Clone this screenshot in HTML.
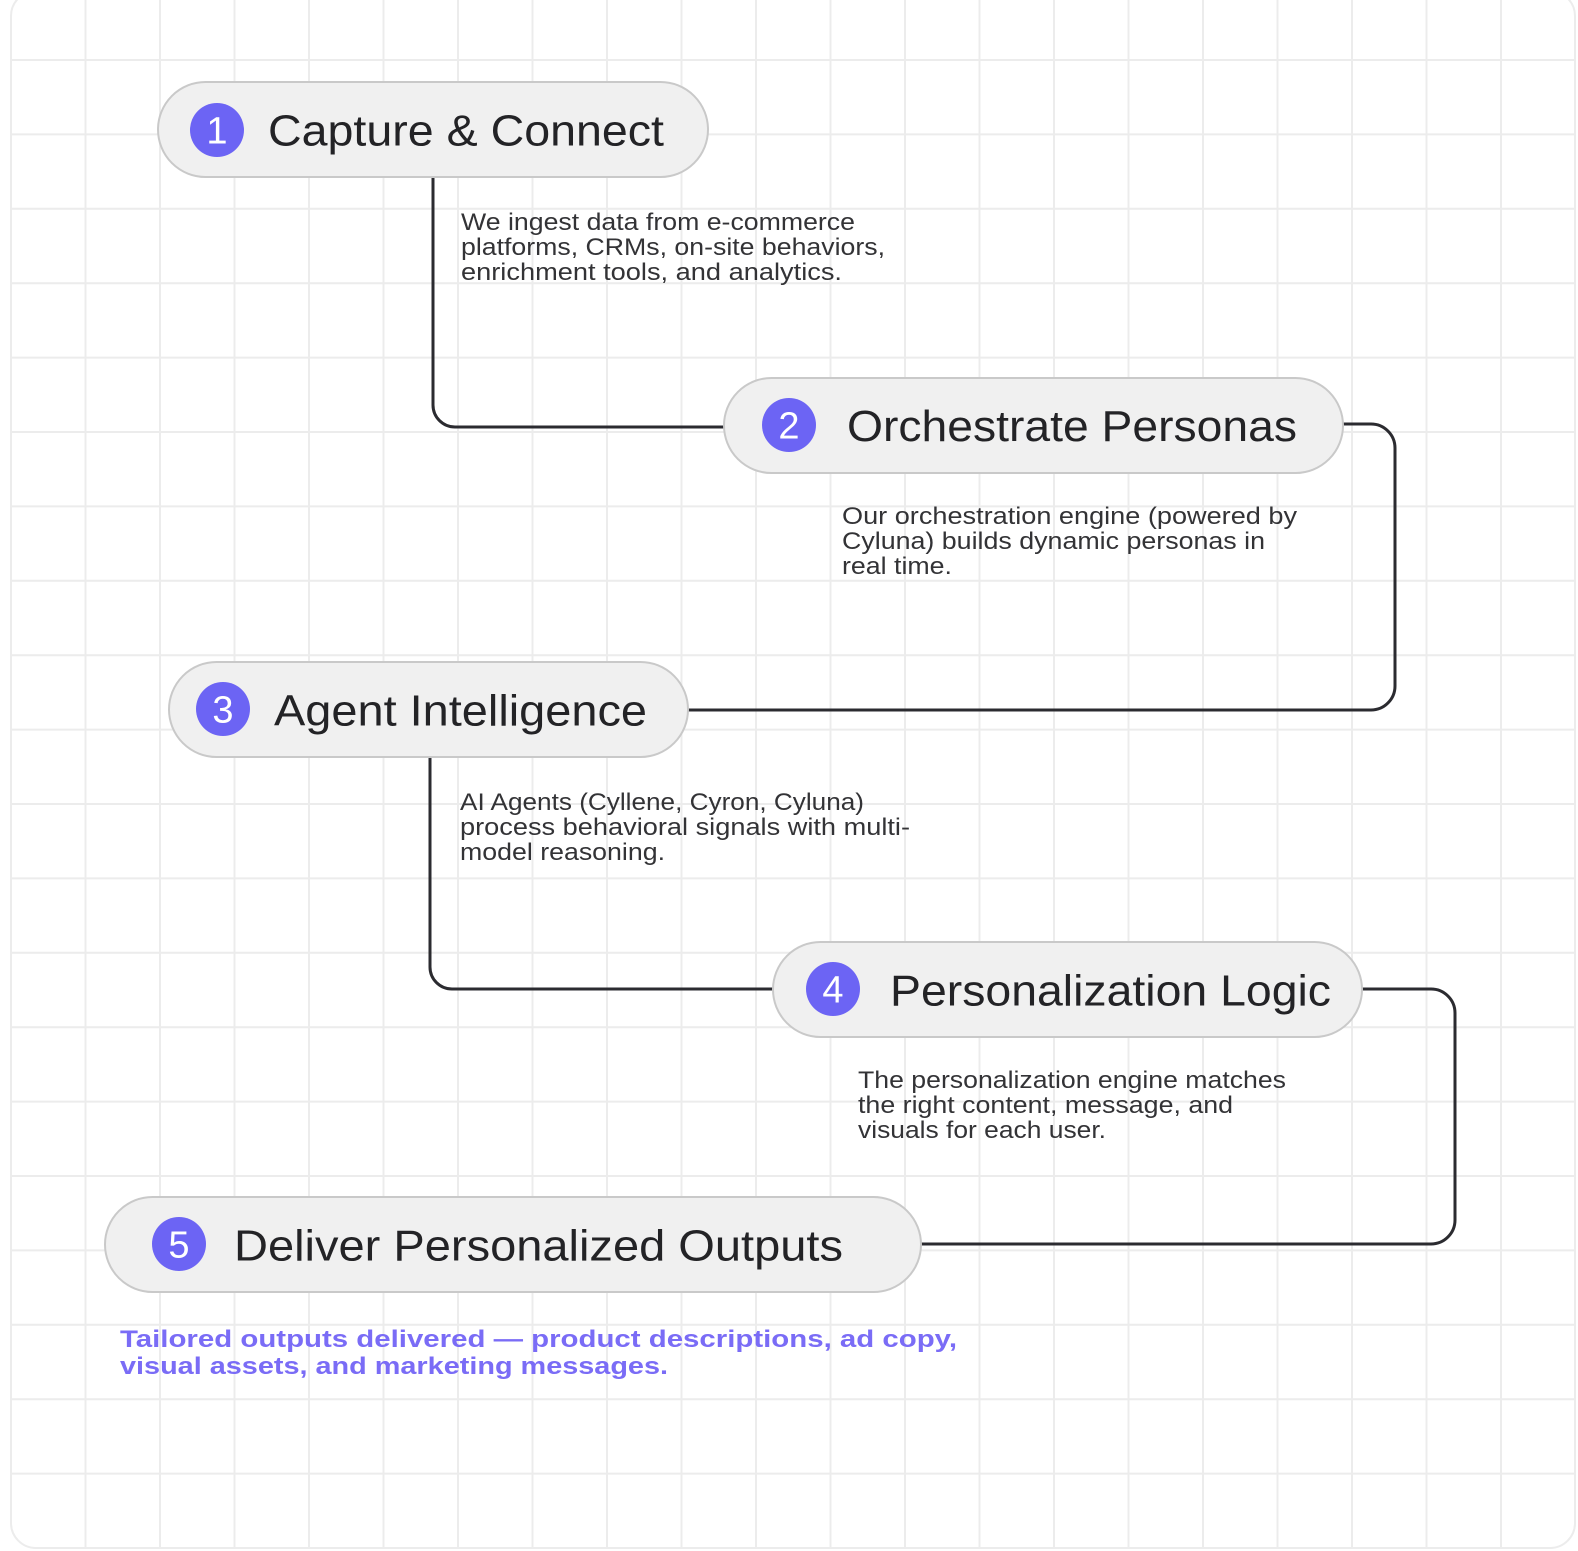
<!DOCTYPE html>
<html>
<head>
<meta charset="utf-8">
<style>
  html, body { margin: 0; padding: 0; background: #ffffff; }
  svg { display: block; }
  .title { font-family: "Liberation Sans", sans-serif; font-size: 44px; fill: #232326; }
  .desc { font-family: "Liberation Sans", sans-serif; font-size: 24px; fill: #333336; }
  .purple { font-family: "Liberation Sans", sans-serif; font-size: 24px; font-weight: bold; fill: #7a6cf6; }
  .num { font-family: "Liberation Sans", sans-serif; font-size: 38px; fill: #ffffff; }
</style>
</head>
<body>
<svg width="1578" height="1551" viewBox="0 0 1578 1551" xmlns="http://www.w3.org/2000/svg">
  <defs>
    <clipPath id="card">
      <rect x="10" y="-10" width="1566" height="1559" rx="26" ry="26"/>
    </clipPath>
  </defs>
  <rect x="0" y="0" width="1578" height="1551" fill="#ffffff"/>

  <!-- grid -->
  <g clip-path="url(#card)" stroke="#ececec" stroke-width="2" fill="none">
    <line x1="85.5" y1="0" x2="85.5" y2="1551"/>
    <line x1="160" y1="0" x2="160" y2="1551"/>
    <line x1="234.5" y1="0" x2="234.5" y2="1551"/>
    <line x1="309" y1="0" x2="309" y2="1551"/>
    <line x1="383.5" y1="0" x2="383.5" y2="1551"/>
    <line x1="458" y1="0" x2="458" y2="1551"/>
    <line x1="532.5" y1="0" x2="532.5" y2="1551"/>
    <line x1="607" y1="0" x2="607" y2="1551"/>
    <line x1="681.5" y1="0" x2="681.5" y2="1551"/>
    <line x1="756" y1="0" x2="756" y2="1551"/>
    <line x1="830.5" y1="0" x2="830.5" y2="1551"/>
    <line x1="905" y1="0" x2="905" y2="1551"/>
    <line x1="979.5" y1="0" x2="979.5" y2="1551"/>
    <line x1="1054" y1="0" x2="1054" y2="1551"/>
    <line x1="1128.5" y1="0" x2="1128.5" y2="1551"/>
    <line x1="1203" y1="0" x2="1203" y2="1551"/>
    <line x1="1277.5" y1="0" x2="1277.5" y2="1551"/>
    <line x1="1352" y1="0" x2="1352" y2="1551"/>
    <line x1="1426.5" y1="0" x2="1426.5" y2="1551"/>
    <line x1="1501" y1="0" x2="1501" y2="1551"/>

    <line x1="0" y1="60" x2="1578" y2="60"/>
    <line x1="0" y1="134.4" x2="1578" y2="134.4"/>
    <line x1="0" y1="208.8" x2="1578" y2="208.8"/>
    <line x1="0" y1="283.2" x2="1578" y2="283.2"/>
    <line x1="0" y1="357.6" x2="1578" y2="357.6"/>
    <line x1="0" y1="432" x2="1578" y2="432"/>
    <line x1="0" y1="506.4" x2="1578" y2="506.4"/>
    <line x1="0" y1="580.8" x2="1578" y2="580.8"/>
    <line x1="0" y1="655.2" x2="1578" y2="655.2"/>
    <line x1="0" y1="729.6" x2="1578" y2="729.6"/>
    <line x1="0" y1="804" x2="1578" y2="804"/>
    <line x1="0" y1="878.4" x2="1578" y2="878.4"/>
    <line x1="0" y1="952.8" x2="1578" y2="952.8"/>
    <line x1="0" y1="1027.2" x2="1578" y2="1027.2"/>
    <line x1="0" y1="1101.6" x2="1578" y2="1101.6"/>
    <line x1="0" y1="1176" x2="1578" y2="1176"/>
    <line x1="0" y1="1250.4" x2="1578" y2="1250.4"/>
    <line x1="0" y1="1324.8" x2="1578" y2="1324.8"/>
    <line x1="0" y1="1399.2" x2="1578" y2="1399.2"/>
    <line x1="0" y1="1473.6" x2="1578" y2="1473.6"/>
  </g>
  <rect x="11" y="-9" width="1564" height="1557" rx="25" ry="25" fill="none" stroke="#ececec" stroke-width="2"/>

  <!-- connectors -->
  <g fill="none" stroke="#2b2b30" stroke-width="3">
    <path d="M433 178 V405 A22 22 0 0 0 455 427 H725"/>
    <path d="M1343 424 H1371 A24 24 0 0 1 1395 448 V686 A24 24 0 0 1 1371 710 H688"/>
    <path d="M430 757 V967 A22 22 0 0 0 452 989 H774"/>
    <path d="M1362 989 H1431 A24 24 0 0 1 1455 1013 V1220 A24 24 0 0 1 1431 1244 H921"/>
  </g>

  <!-- node 1 -->
  <rect x="158" y="82" width="550" height="95" rx="47.5" ry="47.5" fill="#f0f0f0" stroke="#c9c9c9" stroke-width="2"/>
  <circle cx="217" cy="130" r="27" fill="#6c64f4"/>
  <text class="num" x="217" y="143.5" text-anchor="middle">1</text>
  <text class="title" x="268" y="145.5" textLength="396" lengthAdjust="spacingAndGlyphs">Capture &amp; Connect</text>

  <!-- node 2 -->
  <rect x="724" y="378" width="619" height="95" rx="47.5" ry="47.5" fill="#f0f0f0" stroke="#c9c9c9" stroke-width="2"/>
  <circle cx="789" cy="425" r="27" fill="#6c64f4"/>
  <text class="num" x="789" y="438.5" text-anchor="middle">2</text>
  <text class="title" x="847" y="441" textLength="450" lengthAdjust="spacingAndGlyphs">Orchestrate Personas</text>

  <!-- node 3 -->
  <rect x="169" y="662" width="519" height="95" rx="47.5" ry="47.5" fill="#f0f0f0" stroke="#c9c9c9" stroke-width="2"/>
  <circle cx="223" cy="709" r="27" fill="#6c64f4"/>
  <text class="num" x="223" y="722.5" text-anchor="middle">3</text>
  <text class="title" x="274" y="725.5" textLength="373" lengthAdjust="spacingAndGlyphs">Agent Intelligence</text>

  <!-- node 4 -->
  <rect x="773" y="942" width="589" height="95" rx="47.5" ry="47.5" fill="#f0f0f0" stroke="#c9c9c9" stroke-width="2"/>
  <circle cx="833" cy="989" r="27" fill="#6c64f4"/>
  <text class="num" x="833" y="1002.5" text-anchor="middle">4</text>
  <text class="title" x="890" y="1005.5" textLength="441" lengthAdjust="spacingAndGlyphs">Personalization Logic</text>

  <!-- node 5 -->
  <rect x="105" y="1197" width="816" height="95" rx="47.5" ry="47.5" fill="#f0f0f0" stroke="#c9c9c9" stroke-width="2"/>
  <circle cx="179" cy="1244" r="27" fill="#6c64f4"/>
  <text class="num" x="179" y="1257.5" text-anchor="middle">5</text>
  <text class="title" x="234" y="1260.5" textLength="609" lengthAdjust="spacingAndGlyphs">Deliver Personalized Outputs</text>

  <!-- descriptions -->
  <text class="desc" x="461" y="230" textLength="394" lengthAdjust="spacingAndGlyphs">We ingest data from e-commerce</text>
  <text class="desc" x="461" y="255" textLength="424" lengthAdjust="spacingAndGlyphs">platforms, CRMs, on-site behaviors,</text>
  <text class="desc" x="461" y="280" textLength="381" lengthAdjust="spacingAndGlyphs">enrichment tools, and analytics.</text>

  <text class="desc" x="842" y="524" textLength="455" lengthAdjust="spacingAndGlyphs">Our orchestration engine (powered by</text>
  <text class="desc" x="842" y="549" textLength="423" lengthAdjust="spacingAndGlyphs">Cyluna) builds dynamic personas in</text>
  <text class="desc" x="842" y="574" textLength="110" lengthAdjust="spacingAndGlyphs">real time.</text>

  <text class="desc" x="460" y="810" textLength="404" lengthAdjust="spacingAndGlyphs">AI Agents (Cyllene, Cyron, Cyluna)</text>
  <text class="desc" x="460" y="835" textLength="450" lengthAdjust="spacingAndGlyphs">process behavioral signals with multi-</text>
  <text class="desc" x="460" y="860" textLength="205" lengthAdjust="spacingAndGlyphs">model reasoning.</text>

  <text class="desc" x="858" y="1088" textLength="428" lengthAdjust="spacingAndGlyphs">The personalization engine matches</text>
  <text class="desc" x="858" y="1113" textLength="375" lengthAdjust="spacingAndGlyphs">the right content, message, and</text>
  <text class="desc" x="858" y="1138" textLength="248" lengthAdjust="spacingAndGlyphs">visuals for each user.</text>

  <text class="purple" x="120" y="1347" textLength="837" lengthAdjust="spacingAndGlyphs">Tailored outputs delivered — product descriptions, ad copy,</text>
  <text class="purple" x="120" y="1374" textLength="548" lengthAdjust="spacingAndGlyphs">visual assets, and marketing messages.</text>
</svg>
</body>
</html>
